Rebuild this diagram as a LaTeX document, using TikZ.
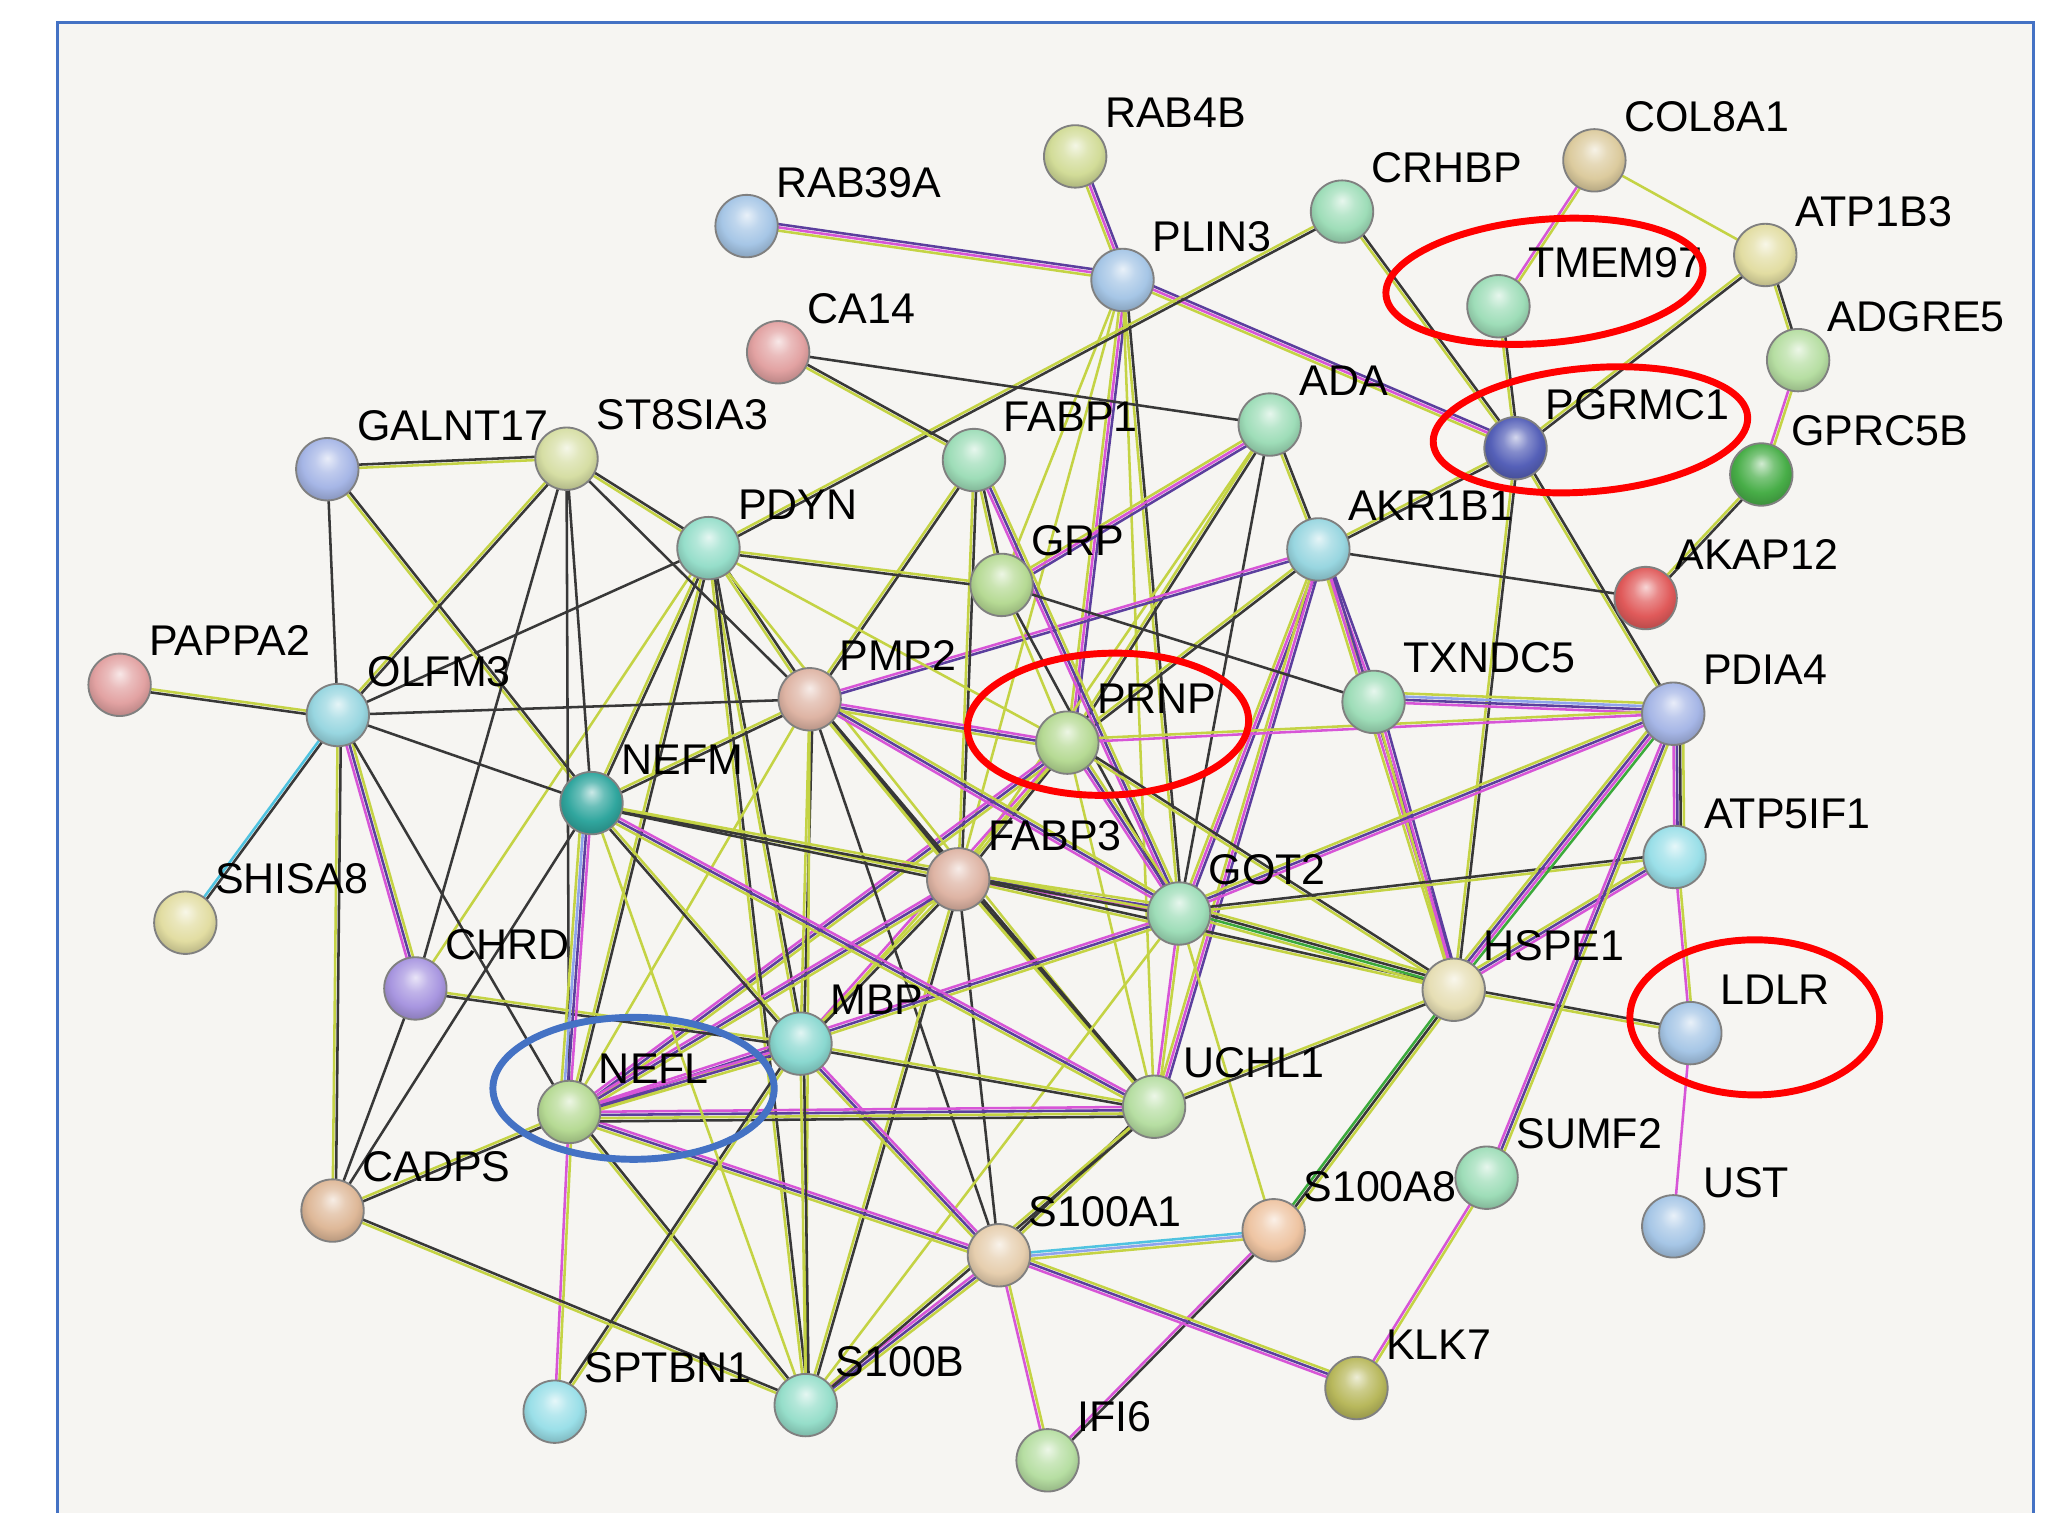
\documentclass[tikz,border=0pt]{standalone}
\usepackage{fontspec}
\setmainfont{Liberation Sans}
\usetikzlibrary{calc}
\pgfdeclarelayer{back}
\pgfdeclarelayer{edges}
\pgfsetlayers{back,edges,main}
% edge colours (STRING evidence channels)
\definecolor{yy}{HTML}{C4D344}
\definecolor{kk}{HTML}{383838}
\definecolor{pp}{HTML}{D755D7}
\definecolor{vv}{HTML}{5B3F9E}
\definecolor{cc}{HTML}{4FC3E0}
\definecolor{gg}{HTML}{3BAA3B}
\definecolor{bb}{HTML}{8FA3EC}
% node colours
\definecolor{nRABfb}{HTML}{D2DC98}
\definecolor{nBlue}{HTML}{A6C6E6}
\definecolor{nTan}{HTML}{DCCB9E}
\definecolor{nMint}{HTML}{9EDDB8}
\definecolor{nPaleY}{HTML}{E2DDA2}
\definecolor{nLGreen}{HTML}{B6DEA2}
\definecolor{nPink}{HTML}{E2A2A2}
\definecolor{nDBlue}{HTML}{5560B8}
\definecolor{nGreen}{HTML}{48AE48}
\definecolor{nPeri}{HTML}{A6B6E6}
\definecolor{nYG}{HTML}{D6DEA4}
\definecolor{nTeal}{HTML}{96DECA}
\definecolor{nCyan}{HTML}{98D6E0}
\definecolor{nGrp}{HTML}{B6DA94}
\definecolor{nRed}{HTML}{E05A5A}
\definecolor{nPeach}{HTML}{DEB4A4}
\definecolor{nNefm}{HTML}{30A69E}
\definecolor{nLav}{HTML}{A896E0}
\definecolor{nCream}{HTML}{E6DEB4}
\definecolor{nMbp}{HTML}{8AD8D0}
\definecolor{nCadps}{HTML}{DEB898}
\definecolor{nBeige}{HTML}{E6CEAE}
\definecolor{nOrPe}{HTML}{EEC4A2}
\definecolor{nOlive}{HTML}{B8B85C}
\definecolor{nSky}{HTML}{9ADFE8}
\definecolor{frameblue}{HTML}{4472C4}
\definecolor{paper}{HTML}{F6F5F2}
\makeatletter
\pgfdeclareradialshading[tikz@ball]{sball}{\pgfqpoint{0bp}{9bp}}{%
  color(0bp)=(tikz@ball!25!white);
  color(10bp)=(tikz@ball!72!white);
  color(20bp)=(tikz@ball);
  color(30bp)=(tikz@ball!80!black);
  color(50bp)=(tikz@ball!55!black)}
\makeatother
\tikzset{
  gnode/.style={circle, minimum size=4.75mm, inner sep=0pt, draw=black!50, line width=0.4pt},
  glabel/.style={anchor=base west, inner sep=0pt, font=\fontsize{9.3}{10}\selectfont, text=black},
  estrand/.style={line width=0.55pt},
  redring/.style={draw=red, line width=1.5pt},
  bluering/.style={draw=frameblue, line width=1.5pt}
}
\newcommand\gene[5]{%
  \node[gnode, ball color=#4, shading=sball] (#1) at (#2,#3) {};
  \node[glabel] (#1-l) at ({#2+22},{#3-22}) {#5};}
\newcommand\lnk[3]{%
  \foreach \ecol [count=\ei from 0] in {#3}{%
    \draw[estrand, draw=\ecol]
      ($(#1.center)!\ei*0.7pt!90:(#2.center)$) -- ($(#2.center)!\ei*0.7pt!-90:(#1.center)$);}}
\begin{document}
\begin{tikzpicture}[x=0.1mm, y=-0.1mm]
\useasboundingbox (0,0) rectangle (1568,1151);
\begin{pgfonlayer}{back}
  \fill[white] (0,0) rectangle (1568,1151);
  \fill[paper] (44,17) rectangle (1547,1160);
  \draw[frameblue, line width=0.6pt] (44,1160) -- (44,17) -- (1547,17) -- (1547,1160);
\end{pgfonlayer}
% ---------------- nodes ----------------
\gene{RAB4B}{818}{119}{nRABfb}{RAB4B}
\gene{RAB39A}{568}{172}{nBlue}{RAB39A}
\gene{COL8A1}{1213}{122}{nTan}{COL8A1}
\gene{CRHBP}{1021}{161}{nMint}{CRHBP}
\gene{PLIN3}{854}{213}{nBlue}{PLIN3}
\gene{ATP1B3}{1343}{194}{nPaleY}{ATP1B3}
\gene{TMEM97}{1140}{233}{nMint}{TMEM97}
\gene{ADGRE5}{1368}{274}{nLGreen}{ADGRE5}
\gene{CA14}{592}{268}{nPink}{CA14}
\gene{ADA}{966}{323}{nMint}{ADA}
\gene{PGRMC1}{1153}{341}{nDBlue}{PGRMC1}
\gene{GPRC5B}{1340}{361}{nGreen}{GPRC5B}
\gene{GALNT17}{249}{357}{nPeri}{GALNT17}
\gene{ST8SIA3}{431}{349}{nYG}{ST8SIA3}
\gene{FABP1}{741}{350}{nMint}{FABP1}
\gene{PDYN}{539}{417}{nTeal}{PDYN}
\gene{AKR1B1}{1003}{418}{nCyan}{AKR1B1}
\gene{GRP}{762}{445}{nGrp}{GRP}
\gene{AKAP12}{1252}{455}{nRed}{AKAP12}
\gene{PAPPA2}{91}{521}{nPink}{PAPPA2}
\gene{OLFM3}{257}{544}{nCyan}{OLFM3}
\gene{PMP2}{616}{532}{nPeach}{PMP2}
\gene{TXNDC5}{1045}{534}{nMint}{TXNDC5}
\gene{PDIA4}{1273}{543}{nPeri}{PDIA4}
\gene{PRNP}{812}{565}{nGrp}{PRNP}
\gene{NEFM}{450}{611}{nNefm}{NEFM}
\gene{ATP5IF1}{1274}{652}{nSky}{ATP5IF1}
\gene{FABP3}{729}{669}{nPeach}{FABP3}
\gene{GOT2}{897}{695}{nMint}{GOT2}
\gene{SHISA8}{141}{702}{nPaleY}{SHISA8}
\gene{CHRD}{316}{752}{nLav}{CHRD}
\gene{HSPE1}{1106}{753}{nCream}{HSPE1}
\gene{MBP}{609}{794}{nMbp}{MBP}
\gene{LDLR}{1286}{786}{nBlue}{LDLR}
\gene{NEFL}{433}{846}{nGrp}{NEFL}
\gene{UCHL1}{878}{842}{nLGreen}{UCHL1}
\gene{CADPS}{253}{921}{nCadps}{CADPS}
\gene{SUMF2}{1131}{896}{nMint}{SUMF2}
\gene{S100A1}{760}{955}{nBeige}{S100A1}
\gene{S100A8}{969}{936}{nOrPe}{S100A8}
\gene{UST}{1273}{933}{nBlue}{UST}
\gene{KLK7}{1032}{1056}{nOlive}{KLK7}
\gene{SPTBN1}{422}{1074}{nSky}{SPTBN1}
\gene{S100B}{613}{1069}{nTeal}{S100B}
\gene{IFI6}{797}{1111}{nLGreen}{IFI6}
% ---------------- edges ----------------
\begin{pgfonlayer}{edges}
\lnk{RAB39A}{PLIN3}{yy,pp,vv}
\lnk{RAB4B}{PLIN3}{yy,pp,vv}
\lnk{PLIN3}{PGRMC1}{yy,pp,vv}
\lnk{PLIN3}{PRNP}{yy,pp,vv}
\lnk{PLIN3}{FABP3}{yy}
\lnk{PLIN3}{GOT2}{yy,kk}
\lnk{PLIN3}{UCHL1}{yy}
\lnk{PLIN3}{GRP}{yy}
\lnk{CRHBP}{PDYN}{yy,kk}
\lnk{CRHBP}{PGRMC1}{yy,kk}
\lnk{COL8A1}{TMEM97}{pp,yy}
\lnk{COL8A1}{ATP1B3}{yy}
\lnk{TMEM97}{PGRMC1}{yy,kk}
\lnk{ATP1B3}{PGRMC1}{yy,kk}
\lnk{ATP1B3}{ADGRE5}{yy,kk}
\lnk{ADGRE5}{GPRC5B}{pp,yy}
\lnk{GPRC5B}{AKAP12}{yy,kk}
\lnk{CA14}{ADA}{kk}
\lnk{CA14}{FABP1}{yy,kk}
\lnk{ADA}{GRP}{yy,pp,vv}
\lnk{ADA}{AKR1B1}{yy,kk}
\lnk{ADA}{PRNP}{yy,kk}
\lnk{ADA}{GOT2}{kk}
\lnk{ADA}{FABP3}{yy}
\lnk{PGRMC1}{AKR1B1}{yy,kk}
\lnk{PGRMC1}{PDIA4}{yy,kk}
\lnk{PGRMC1}{HSPE1}{yy,kk}
\lnk{AKR1B1}{AKAP12}{kk}
\lnk{AKR1B1}{TXNDC5}{yy,pp,vv}
\lnk{AKR1B1}{HSPE1}{yy,pp,vv}
\lnk{AKR1B1}{GOT2}{yy,pp,vv}
\lnk{AKR1B1}{UCHL1}{yy,pp,vv}
\lnk{AKR1B1}{PRNP}{yy,kk}
\lnk{AKR1B1}{PMP2}{pp,vv}
\lnk{FABP1}{GRP}{yy,kk}
\lnk{FABP1}{GOT2}{pp,vv,yy}
\lnk{FABP1}{FABP3}{yy,kk}
\lnk{FABP1}{PMP2}{yy,kk}
\lnk{GRP}{TXNDC5}{kk}
\lnk{GRP}{PDYN}{yy,kk}
\lnk{GRP}{GOT2}{kk}
\lnk{GRP}{PRNP}{yy}
\lnk{TXNDC5}{PDIA4}{pp,vv,bb,yy}
\lnk{TXNDC5}{HSPE1}{yy,pp,vv}
\lnk{PRNP}{PDIA4}{pp,yy}
\lnk{PRNP}{GOT2}{pp,vv,yy}
\lnk{PRNP}{FABP3}{yy,kk}
\lnk{PRNP}{PMP2}{pp,vv,yy}
\lnk{PRNP}{UCHL1}{yy}
\lnk{PRNP}{NEFL}{pp,vv,yy}
\lnk{PRNP}{MBP}{pp,yy}
\lnk{PRNP}{HSPE1}{yy,kk}
\lnk{PDYN}{PRNP}{yy}
\lnk{PDYN}{OLFM3}{kk}
\lnk{PDYN}{NEFM}{yy,kk}
\lnk{PDYN}{NEFL}{yy,kk}
\lnk{PDYN}{PMP2}{yy,kk}
\lnk{PDYN}{MBP}{yy,kk}
\lnk{PDYN}{S100B}{yy,kk}
\lnk{PDYN}{CHRD}{yy}
\lnk{PDYN}{UCHL1}{yy}
\lnk{GALNT17}{ST8SIA3}{yy,kk}
\lnk{GALNT17}{OLFM3}{kk}
\lnk{GALNT17}{NEFM}{yy,kk}
\lnk{ST8SIA3}{OLFM3}{yy,kk}
\lnk{ST8SIA3}{PDYN}{yy,kk}
\lnk{ST8SIA3}{NEFM}{kk}
\lnk{ST8SIA3}{NEFL}{kk}
\lnk{ST8SIA3}{CHRD}{kk}
\lnk{ST8SIA3}{PMP2}{kk}
\lnk{OLFM3}{PAPPA2}{yy,kk}
\lnk{OLFM3}{PMP2}{kk}
\lnk{OLFM3}{SHISA8}{cc,kk}
\lnk{OLFM3}{CHRD}{pp,vv,yy}
\lnk{OLFM3}{CADPS}{yy,kk}
\lnk{OLFM3}{NEFL}{kk}
\lnk{OLFM3}{NEFM}{kk}
\lnk{PMP2}{GOT2}{pp,vv,yy}
\lnk{PMP2}{MBP}{yy,kk}
\lnk{PMP2}{NEFL}{yy}
\lnk{PMP2}{UCHL1}{yy,kk}
\lnk{PMP2}{FABP3}{yy,kk}
\lnk{PMP2}{S100A1}{kk}
\lnk{PMP2}{NEFM}{yy,kk}
\lnk{PMP2}{S100B}{yy}
\lnk{FABP3}{NEFM}{yy,kk}
\lnk{FABP3}{GOT2}{pp,vv,yy}
\lnk{FABP3}{HSPE1}{yy,kk}
\lnk{FABP3}{MBP}{yy,kk}
\lnk{FABP3}{NEFL}{pp,vv,yy}
\lnk{FABP3}{S100B}{yy,kk}
\lnk{FABP3}{UCHL1}{yy,kk}
\lnk{FABP3}{S100A1}{kk}
\lnk{GOT2}{HSPE1}{yy,gg,kk,yy}
\lnk{GOT2}{ATP5IF1}{yy,kk}
\lnk{GOT2}{PDIA4}{pp,vv,yy}
\lnk{GOT2}{UCHL1}{pp,yy}
\lnk{GOT2}{NEFL}{pp,vv,yy}
\lnk{GOT2}{NEFM}{yy,kk}
\lnk{GOT2}{S100B}{yy}
\lnk{GOT2}{S100A8}{yy}
\lnk{HSPE1}{PDIA4}{gg,pp,vv,yy}
\lnk{HSPE1}{ATP5IF1}{pp,vv,yy}
\lnk{HSPE1}{LDLR}{yy,kk}
\lnk{HSPE1}{UCHL1}{yy,kk}
\lnk{HSPE1}{S100A8}{gg,kk,yy}
\lnk{PDIA4}{ATP5IF1}{pp,vv,kk,yy}
\lnk{PDIA4}{SUMF2}{pp,vv,yy}
\lnk{ATP5IF1}{LDLR}{pp,yy}
\lnk{LDLR}{UST}{pp}
\lnk{SUMF2}{KLK7}{pp,yy}
\lnk{S100A8}{S100A1}{cc,bb,yy}
\lnk{S100A8}{IFI6}{pp,kk}
\lnk{S100A1}{KLK7}{pp,vv,yy}
\lnk{S100A1}{S100B}{pp,vv,yy}
\lnk{S100A1}{IFI6}{pp,yy}
\lnk{S100A1}{UCHL1}{yy,kk}
\lnk{S100A1}{MBP}{pp,vv,yy}
\lnk{S100A1}{NEFL}{pp,vv,yy}
\lnk{UCHL1}{NEFL}{pp,vv,yy,kk}
\lnk{UCHL1}{MBP}{yy,kk}
\lnk{UCHL1}{NEFM}{pp,vv,yy}
\lnk{UCHL1}{S100B}{yy,kk}
\lnk{MBP}{NEFL}{pp,vv,yy}
\lnk{MBP}{NEFM}{yy,kk}
\lnk{MBP}{S100B}{yy,kk}
\lnk{MBP}{CHRD}{yy,kk}
\lnk{NEFL}{NEFM}{pp,vv,bb,yy}
\lnk{NEFL}{S100B}{yy,kk}
\lnk{NEFL}{SPTBN1}{pp,yy}
\lnk{NEFL}{CADPS}{yy,kk}
\lnk{SPTBN1}{MBP}{yy,kk}
\lnk{CADPS}{S100B}{yy,kk}
\lnk{CADPS}{CHRD}{kk}
\lnk{CADPS}{NEFM}{kk}
\lnk{NEFM}{S100B}{yy}
\end{pgfonlayer}
% ---------------- highlight rings ----------------
\draw[redring, rotate around={5:(1175,214)}] (1175,214) ellipse [x radius=121, y radius=47];
\draw[redring, rotate around={5:(1210,327)}] (1210,327) ellipse [x radius=120, y radius=47];
\draw[redring, rotate around={2:(843,551)}] (843,551) ellipse [x radius=107, y radius=54];
\draw[redring] (1335,774) ellipse [x radius=95, y radius=59];
\draw[bluering] (482,828) ellipse [x radius=107, y radius=54];
\end{tikzpicture}
\end{document}
